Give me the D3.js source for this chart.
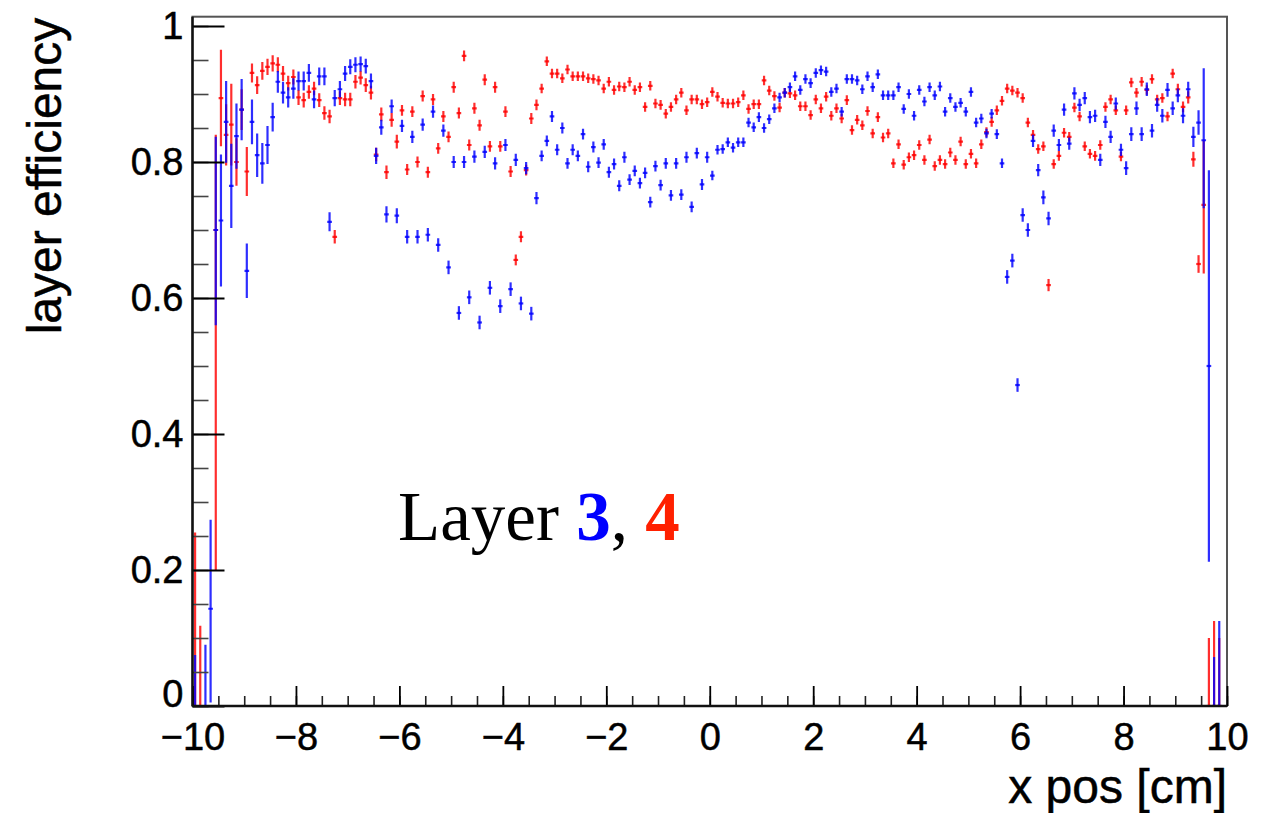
<!DOCTYPE html>
<html>
<head>
<meta charset="utf-8">
<script src="https://cdn.jsdelivr.net/npm/d3@7"></script>
<style>
  html, body { margin: 0; padding: 0; background: #fff; }
  svg { display: block; }
</style>
</head>
<body>
<svg id="chart" width="1274" height="813"></svg>
<script>
// Histogram binning: 200 bins of 0.1 cm from -10 to 10 cm
const binLow = -10;
const binWidth = 0.1;

// Layer 3 efficiency per bin (null = empty bin)
const layer3Eff = [
  0, null, 0, 0.143, 0.70, 0.714, 0.859, 0.765, 0.838, 0.877,
  0.64, 0.859, 0.81, 0.798, 0.825, 0.866, 0.918, 0.902, 0.895, 0.908,
  0.919, 0.919, 0.931, 0.892, 0.926, 0.926, 0.712, 0.894, 0.907, 0.930,
  0.940, 0.943, 0.944, 0.941, 0.919, 0.809, 0.851, 0.723, 0.882, 0.721,
  0.853, 0.690, 0.837, 0.690, 0.855, 0.693, 0.874, 0.678, 0.846, 0.645,
  0.800, 0.578, 0.800, 0.601, 0.808, 0.564, 0.815, 0.615, 0.798, 0.588,
  0.825, 0.613, 0.803, 0.592, 0.791, 0.577, 0.747, 0.809, 0.831, 0.867,
  0.818, 0.850, 0.798, 0.818, 0.809, 0.841, 0.793, 0.822, 0.799, 0.826,
  0.785, 0.797, 0.765, 0.807, 0.774, 0.787, 0.769, 0.784, 0.741, 0.794,
  0.766, 0.798, 0.751, 0.798, 0.752, 0.807, 0.734, 0.813, 0.767, 0.807,
  0.780, 0.818, 0.819, 0.829, 0.821, 0.829, 0.829, 0.858, 0.851, 0.866,
  0.850, 0.863, 0.879, 0.895, 0.902, 0.910, 0.926, 0.906, 0.922, 0.916,
  0.931, 0.935, 0.933, 0.903, 0.908, 0.874, 0.922, 0.922, 0.920, 0.907,
  0.926, 0.910, 0.929, 0.898, 0.898, 0.898, 0.910, 0.878, 0.900, 0.868,
  0.906, 0.889, 0.910, 0.898, 0.911, 0.874, 0.894, 0.881, 0.887, 0.874,
  0.903, 0.858, 0.864, 0.842, 0.871, 0.841, 0.798, 0.631, 0.655, 0.472,
  0.722, 0.700, 0.831, 0.788, 0.748, 0.717, 0.846, 0.825, 0.877, 0.827,
  0.901, 0.884, 0.894, 0.866, 0.868, 0.803, 0.859, 0.837, 0.886, 0.818,
  0.791, 0.841, 0.879, 0.841, 0.907, 0.846, 0.884, 0.868, 0.906, 0.879,
  0.898, 0.868, 0.907, 0.837, 0.858, 0.832, 0.50, 0, 0, null
];

// Layer 3 symmetric uncertainty per bin
const layer3Err = [
  0, 0, 0, 0, 0, 0.097, 0.06, 0.062, 0.048, 0.045,
  0.04, 0.033, 0.032, 0.03, 0.028, 0.021, 0.016, 0.016, 0.015, 0.015,
  0.014, 0.014, 0.013, 0.013, 0.013, 0.013, 0.014, 0.012, 0.012, 0.011,
  0.011, 0.011, 0.011, 0.011, 0.011, 0.012, 0.011, 0.012, 0.010, 0.011,
  0.009, 0.010, 0.009, 0.010, 0.009, 0.010, 0.009, 0.010, 0.009, 0.010,
  0.009, 0.010, 0.009, 0.010, 0.009, 0.010, 0.009, 0.010, 0.009, 0.010,
  0.009, 0.010, 0.009, 0.010, 0.009, 0.010, 0.009, 0.008, 0.008, 0.008,
  0.008, 0.008, 0.008, 0.008, 0.008, 0.008, 0.008, 0.008, 0.008, 0.008,
  0.008, 0.008, 0.008, 0.008, 0.008, 0.008, 0.008, 0.008, 0.008, 0.008,
  0.008, 0.008, 0.008, 0.008, 0.008, 0.008, 0.008, 0.008, 0.008, 0.008,
  0.007, 0.007, 0.007, 0.007, 0.007, 0.007, 0.007, 0.007, 0.007, 0.007,
  0.007, 0.007, 0.007, 0.007, 0.007, 0.007, 0.007, 0.007, 0.007, 0.007,
  0.007, 0.007, 0.007, 0.007, 0.007, 0.007, 0.007, 0.007, 0.007, 0.007,
  0.007, 0.007, 0.007, 0.007, 0.007, 0.007, 0.007, 0.007, 0.007, 0.007,
  0.007, 0.007, 0.007, 0.007, 0.007, 0.007, 0.007, 0.007, 0.007, 0.007,
  0.007, 0.007, 0.007, 0.007, 0.007, 0.007, 0.007, 0.010, 0.010, 0.010,
  0.010, 0.010, 0.009, 0.009, 0.010, 0.010, 0.009, 0.009, 0.009, 0.009,
  0.009, 0.009, 0.009, 0.009, 0.009, 0.009, 0.009, 0.009, 0.009, 0.009,
  0.010, 0.010, 0.010, 0.010, 0.010, 0.010, 0.010, 0.010, 0.010, 0.010,
  0.010, 0.011, 0.011, 0.015, 0.018, 0, 0, 0, 0, 0
];

// Layer 3 low-statistics bins: [bin, lower error, upper error]
const layer3Asym = [
  [0, 0, 0.075], [2, 0, 0.09], [3, 0.138, 0.131], [4, 0.14, 0.137],
  [195, 0.10, 0.106], [196, 0.288, 0.288], [197, 0, 0.072], [198, 0, 0.125]
];

// Layer 4 efficiency per bin (null = empty bin)
const layer4Eff = [
  0, 0, null, null, 0.70, 0.894, 0.84, 0.855, 0.80, 0.877,
  0.786, 0.931, 0.913, 0.934, 0.940, 0.945, 0.943, 0.930, 0.916, 0.925,
  0.895, 0.891, 0.903, 0.908, 0.891, 0.872, 0.867, 0.690, 0.894, 0.892,
  0.892, 0.918, 0.924, 0.913, 0.902, 0.811, 0.870, 0.785, 0.862, 0.830,
  0.876, 0.789, 0.874, 0.800, 0.897, 0.785, 0.892, 0.820, 0.867, 0.837,
  0.910, 0.872, 0.956, 0.825, 0.879, 0.854, 0.921, 0.823, 0.910, 0.823,
  0.874, 0.786, 0.656, 0.690, 0.788, 0.864, 0.884, 0.908, 0.948, 0.930,
  0.930, 0.923, 0.936, 0.926, 0.926, 0.926, 0.923, 0.922, 0.920, 0.908,
  0.918, 0.906, 0.911, 0.910, 0.918, 0.906, 0.910, 0.881, 0.912, 0.886,
  0.884, 0.871, 0.881, 0.892, 0.902, 0.876, 0.892, 0.892, 0.885, 0.888,
  0.903, 0.896, 0.887, 0.886, 0.886, 0.888, 0.898, 0.878, 0.885, 0.885,
  0.920, 0.905, 0.897, 0.880, 0.902, 0.901, 0.898, 0.882, 0.882, 0.869,
  0.892, 0.879, 0.896, 0.868, 0.879, 0.864, 0.891, 0.847, 0.862, 0.854,
  0.875, 0.842, 0.866, 0.836, 0.842, 0.798, 0.826, 0.796, 0.807, 0.810,
  0.825, 0.803, 0.833, 0.794, 0.803, 0.797, 0.814, 0.803, 0.830, 0.797,
  0.812, 0.798, 0.826, 0.844, 0.859, 0.876, 0.890, 0.908, 0.905, 0.902,
  0.894, 0.858, 0.840, 0.819, 0.823, 0.619, 0.797, 0.809, 0.843, 0.837,
  0.880, 0.867, 0.823, 0.812, 0.809, 0.825, 0.881, 0.892, 0.876, 0.808,
  0.876, 0.917, 0.902, 0.918, 0.906, 0.922, 0.892, 0.894, 0.867, 0.930,
  0.907, 0.881, 0.895, 0.804, 0.650, 0.737, 0, 0, 0, null
];

// Layer 4 symmetric uncertainty per bin
const layer4Err = [
  0, 0, 0, 0, 0, 0.071, 0.045, 0.06, 0.035, 0.03,
  0.036, 0.014, 0.013, 0.013, 0.012, 0.012, 0.011, 0.011, 0.011, 0.011,
  0.011, 0.011, 0.010, 0.010, 0.010, 0.010, 0.010, 0.010, 0.010, 0.010,
  0.010, 0.010, 0.010, 0.010, 0.010, 0.010, 0.010, 0.010, 0.010, 0.010,
  0.008, 0.008, 0.008, 0.008, 0.008, 0.008, 0.008, 0.008, 0.008, 0.008,
  0.008, 0.008, 0.008, 0.008, 0.008, 0.008, 0.008, 0.008, 0.008, 0.008,
  0.008, 0.008, 0.008, 0.008, 0.008, 0.008, 0.008, 0.007, 0.007, 0.007,
  0.007, 0.007, 0.007, 0.007, 0.007, 0.007, 0.007, 0.007, 0.007, 0.007,
  0.007, 0.007, 0.007, 0.007, 0.007, 0.007, 0.007, 0.007, 0.007, 0.007,
  0.007, 0.007, 0.007, 0.007, 0.007, 0.007, 0.007, 0.007, 0.007, 0.007,
  0.007, 0.007, 0.007, 0.007, 0.007, 0.007, 0.007, 0.007, 0.007, 0.007,
  0.007, 0.007, 0.007, 0.007, 0.007, 0.007, 0.007, 0.007, 0.007, 0.007,
  0.007, 0.007, 0.007, 0.007, 0.007, 0.007, 0.007, 0.007, 0.007, 0.007,
  0.007, 0.007, 0.007, 0.007, 0.007, 0.007, 0.007, 0.007, 0.007, 0.007,
  0.007, 0.007, 0.007, 0.007, 0.007, 0.007, 0.007, 0.007, 0.007, 0.007,
  0.007, 0.007, 0.007, 0.007, 0.007, 0.007, 0.007, 0.007, 0.007, 0.007,
  0.007, 0.007, 0.007, 0.007, 0.007, 0.009, 0.007, 0.007, 0.007, 0.007,
  0.007, 0.007, 0.007, 0.007, 0.007, 0.007, 0.007, 0.007, 0.007, 0.007,
  0.007, 0.007, 0.007, 0.007, 0.007, 0.007, 0.007, 0.007, 0.007, 0.007,
  0.008, 0.008, 0.009, 0.011, 0.013, 0, 0, 0, 0, 0
];

// Layer 4 low-statistics bins: [bin, lower error, upper error]
const layer4Asym = [
  [0, 0, 0.255], [1, 0, 0.118], [4, 0.50, 0.14],
  [195, 0.101, 0.095], [196, 0, 0.10], [197, 0, 0.125], [198, 0, 0.10]
];

// Axis tick values
const xMajorTicks = [-10, -8, -6, -4, -2, 0, 2, 4, 6, 8, 10];
const xMinorTicks = d3.range(-10, 10.001, 0.5);
const yMajorTicks = [0, 0.2, 0.4, 0.6, 0.8, 1];
const yMinorTicks = d3.range(0, 1.0001, 0.05);

const colors = { layer3: "#0000ff", layer4: "#ff0000" };

// ---- layout ----
const frame = { left: 192.5, right: 1227, top: 16.7, bottom: 706 };
const x = d3.scaleLinear().domain([-10, 10]).range([frame.left, frame.right]);
const y = d3.scaleLinear().domain([0, 1.01368]).range([frame.bottom, frame.top]);

const svg = d3.select("#chart");
const sansFont = "'Liberation Sans', Arial, Helvetica, sans-serif";

svg.append("defs").append("clipPath").attr("id", "plotClip")
  .append("rect")
  .attr("x", frame.left).attr("y", frame.top)
  .attr("width", frame.right - frame.left).attr("height", frame.bottom - frame.top);

// Build point records with asymmetric errors
function buildPoints(eff, err, asym) {
  const over = new Map(asym.map(d => [d[0], d]));
  const pts = [];
  eff.forEach((v, i) => {
    if (v === null) return;
    let lo = err[i], hi = err[i];
    if (over.has(i)) { lo = over.get(i)[1]; hi = over.get(i)[2]; }
    pts.push({ xc: binLow + (i + 0.5) * binWidth, v, lo, hi });
  });
  return pts;
}

const series = [
  { key: "layer4", pts: buildPoints(layer4Eff, layer4Err, layer4Asym) },
  { key: "layer3", pts: buildPoints(layer3Eff, layer3Err, layer3Asym) }
];

const plot = svg.append("g").attr("clip-path", "url(#plotClip)");
const halfBar = 0.045;

series.forEach(s => {
  const g = plot.append("g")
    .attr("stroke", colors[s.key])
    .attr("stroke-width", 2.2)
    .attr("stroke-opacity", 0.82)
    .attr("fill", "none");
  g.selectAll("line.v").data(s.pts).join("line")
    .attr("class", "v")
    .attr("x1", d => x(d.xc)).attr("x2", d => x(d.xc))
    .attr("y1", d => y(d.v - d.lo)).attr("y2", d => y(d.v + d.hi));
  g.selectAll("line.h").data(s.pts).join("line")
    .attr("class", "h")
    .attr("x1", d => x(d.xc - halfBar)).attr("x2", d => x(d.xc + halfBar))
    .attr("y1", d => y(d.v)).attr("y2", d => y(d.v));
});

// ---- frame ----
svg.append("rect")
  .attr("x", frame.left).attr("y", frame.top)
  .attr("width", frame.right - frame.left).attr("height", frame.bottom - frame.top)
  .attr("fill", "none").attr("stroke", "#555").attr("stroke-width", 2);

// shared text styling: slightly heavier strokes
function styleLabels(sel, size) {
  sel.attr("font-family", sansFont).attr("font-size", size)
    .attr("fill", "#000").attr("stroke", "#000").attr("stroke-width", 0.5);
}

// ---- x axis ----
const xAxisMinor = d3.axisBottom(x).tickValues(xMinorTicks).tickSize(-10).tickFormat("");
const xAxisMajor = d3.axisBottom(x).tickValues(xMajorTicks).tickSize(-20).tickPadding(17);

svg.append("g").attr("transform", `translate(0,${frame.bottom})`).call(xAxisMinor)
  .call(g => g.select(".domain").remove())
  .call(g => g.selectAll("line").attr("stroke", "#222").attr("stroke-width", 1.6));

svg.append("g").attr("transform", `translate(0,${frame.bottom})`).call(xAxisMajor)
  .call(g => g.select(".domain").remove())
  .call(g => g.selectAll("line").attr("stroke", "#000").attr("stroke-width", 1.8))
  .call(g => styleLabels(g.selectAll("text"), 38));

// ---- y axis ----
const yAxisMinor = d3.axisLeft(y).tickValues(yMinorTicks).tickSize(-16).tickFormat("");
const yAxisMajor = d3.axisLeft(y).tickValues(yMajorTicks).tickSize(-32).tickPadding(9)
  .tickFormat(d => (d === 0 || d === 1) ? d3.format("d")(d) : d3.format(".1f")(d));

svg.append("g").attr("transform", `translate(${frame.left},0)`).call(yAxisMinor)
  .call(g => g.select(".domain").remove())
  .call(g => g.selectAll("line").attr("stroke", "#444").attr("stroke-width", 1.6));

svg.append("g").attr("transform", `translate(${frame.left},0)`).call(yAxisMajor)
  .call(g => g.select(".domain").remove())
  .call(g => g.selectAll("line").attr("stroke", "#000").attr("stroke-width", 1.8))
  .call(g => styleLabels(g.selectAll("text"), 38))
  // lift the "0" label so it clears the x-axis "−10" below it
  .call(g => g.selectAll(".tick").filter(d => d === 0).select("text").attr("y", -12));

// axis lines
svg.append("line").attr("x1", frame.left).attr("x2", frame.left)
  .attr("y1", frame.top).attr("y2", frame.bottom)
  .attr("stroke", "#111").attr("stroke-width", 2.4);
svg.append("line").attr("x1", frame.left).attr("x2", frame.right)
  .attr("y1", frame.bottom).attr("y2", frame.bottom)
  .attr("stroke", "#111").attr("stroke-width", 2.4);

// ---- axis titles ----
styleLabels(svg.append("text")
  .attr("x", frame.right).attr("y", 803)
  .attr("text-anchor", "end")
  .text("x pos [cm]"), 48);

styleLabels(svg.append("text")
  .attr("transform", `translate(61,${frame.top + 1}) rotate(-90)`)
  .attr("text-anchor", "end")
  .text("layer efficiency"), 48);

// ---- annotation ----
const note = svg.append("text")
  .attr("x", 398).attr("y", 540)
  .attr("font-family", "'Liberation Serif', 'Times New Roman', serif")
  .attr("font-size", 69)
  .attr("fill", "#000");
note.append("tspan").text("Layer ");
note.append("tspan").attr("font-weight", "bold").attr("fill", "#0000ff").text("3");
note.append("tspan").text(", ");
note.append("tspan").attr("font-weight", "bold").attr("fill", "#ff2000").text("4");
</script>
</body>
</html>
